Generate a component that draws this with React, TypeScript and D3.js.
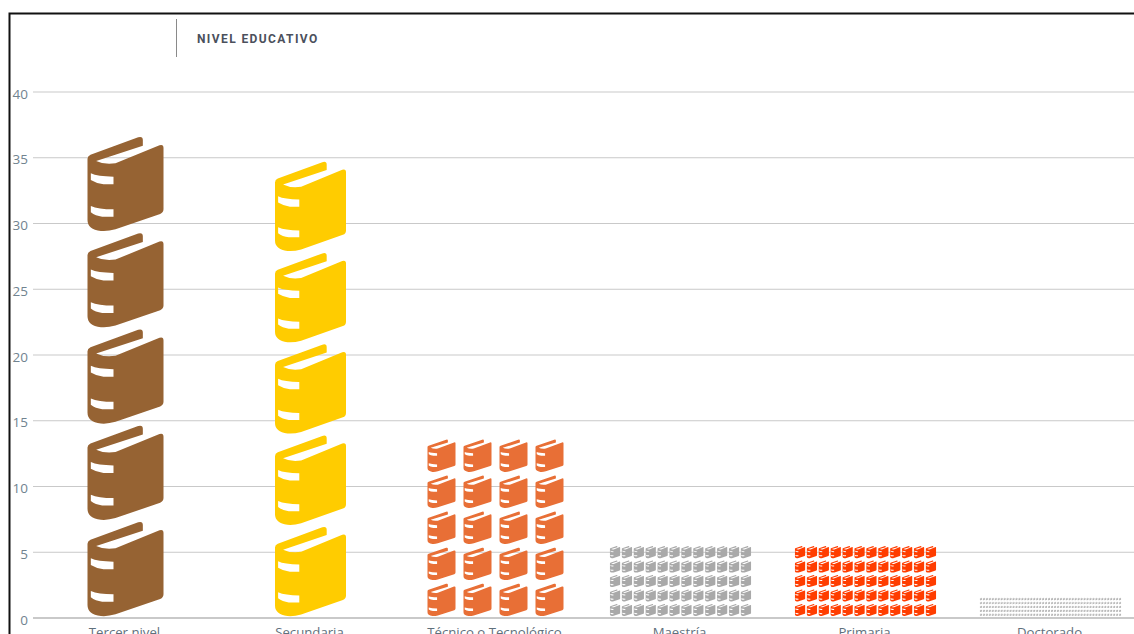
import React from "react";
import * as d3 from "d3";

const categories = ["Tercer nivel", "Secundaria", "Técnico o Tecnológico", "Maestría", "Primaria", "Doctorado"];
const values = [36.6, 34.7, 13.7, 5.5, 5.5, 1.5];
const rowCounts = [5, 5, 5, 5, 5, 5];
const columnCounts = [1, 1, 4, 12, 12, 48];
const yTicks = [0, 5, 10, 15, 20, 25, 30, 35, 40];

// Drawing constants for each category's pile of books.
const colors = ["#966333", "#ffcc00", "#e86f36", "#a9a9a9", "#ff3d00", "#b4b4b4"];
const bookWidths = [76, 71, 28, 10.2, 10.2, 2];
const columnPitches = [0, 0, 36, 11.9, 11.9, 2.96];
const bookFill = [0.98, 0.98, 0.9, 0.84, 0.84, 0.62];

const W = 1134;
const H = 634;

// Book silhouette in a 228x283 box; the notch and spine bands are cut out with even-odd fill.
const BOOK_W = 228;
const BOOK_H = 283;
const BOOK_PATH =
  "M0 66 Q0 58 9 54 L152 2 Q166 -2 166 10 L166 27 L26 73 Q50 85 84 80 L216 26 Q228 22 228 34 " +
  "L228 218 Q228 228 218 232 L84 278 Q60 285 40 283 Q0 278 0 250 Z " +
  "M10 110 Q30 120 78 120 L78 143 L48 143 Q26 140 10 130 Z " +
  "M10 208 Q32 218 78 218 L78 240 L44 240 Q24 238 10 227 Z";

const y = d3.scaleLinear().domain([0, 40]).range([618, 92]);
const x = d3.scaleBand<string>().domain(categories).range([33, 1143]).padding(0);

function Pile({ index }: { index: number }) {
  const rows = rowCounts[index];
  const cols = columnCounts[index];
  const cellH = (y(0) - y(values[index])) / rows;
  const bookH = cellH * bookFill[index];
  const bookW = bookWidths[index];
  const pitch = columnPitches[index];
  const center = (x(categories[index]) as number) + x.bandwidth() / 2;
  const blockW = (cols - 1) * pitch + bookW;
  const bottom = y(0) - 2;
  const sx = bookW / BOOK_W;
  const sy = bookH / BOOK_H;
  return (
    <g fill={colors[index]} fillRule="evenodd">
      {d3.range(rows).flatMap((r) =>
        d3.range(cols).map((c) => (
          <path
            key={`${r}-${c}`}
            d={BOOK_PATH}
            transform={`translate(${center - blockW / 2 + c * pitch},${bottom - bookH - r * cellH}) scale(${sx},${sy})`}
          />
        ))
      )}
    </g>
  );
}

export default function App() {
  const font = "'Open Sans', sans-serif";
  return (
    <svg
      width={W}
      height={H}
      viewBox={`0 0 ${W} ${H}`}
      style={{ position: "absolute", left: 0, top: 0, display: "block", background: "#fff" }}
    >
      <path d={`M${W} 13.5 H9.5 V${H}`} fill="none" stroke="#111" strokeWidth={2} />
      <line x1={176.5} x2={176.5} y1={19} y2={57} stroke="#8a8a8a" strokeWidth={1} />
      <text
        x={197}
        y={43}
        fontFamily="Roboto, sans-serif"
        fontWeight={700}
        fontSize={12}
        letterSpacing={1.4}
        fill="#4b505c"
      >
        NIVEL EDUCATIVO
      </text>

      {yTicks.map((t) => (
        <g key={t}>
          <line
            x1={33}
            x2={W}
            y1={y(t)}
            y2={y(t)}
            stroke="#c9c9c9"
            strokeWidth={t === 0 ? 2 : 1}
          />
          <text x={28} y={y(t) + 6.5} textAnchor="end" fontFamily={font} fontSize={13.5} fill="#71838f">
            {t}
          </text>
        </g>
      ))}

      {categories.map((c, i) => (
        <Pile key={c} index={i} />
      ))}

      {categories.map((c) => (
        <text
          key={c}
          x={(x(c) as number) + x.bandwidth() / 2 - 1}
          y={637}
          textAnchor="middle"
          fontFamily={font}
          fontSize={13.2}
          fill="#5f707c"
        >
          {c}
        </text>
      ))}
    </svg>
  );
}
